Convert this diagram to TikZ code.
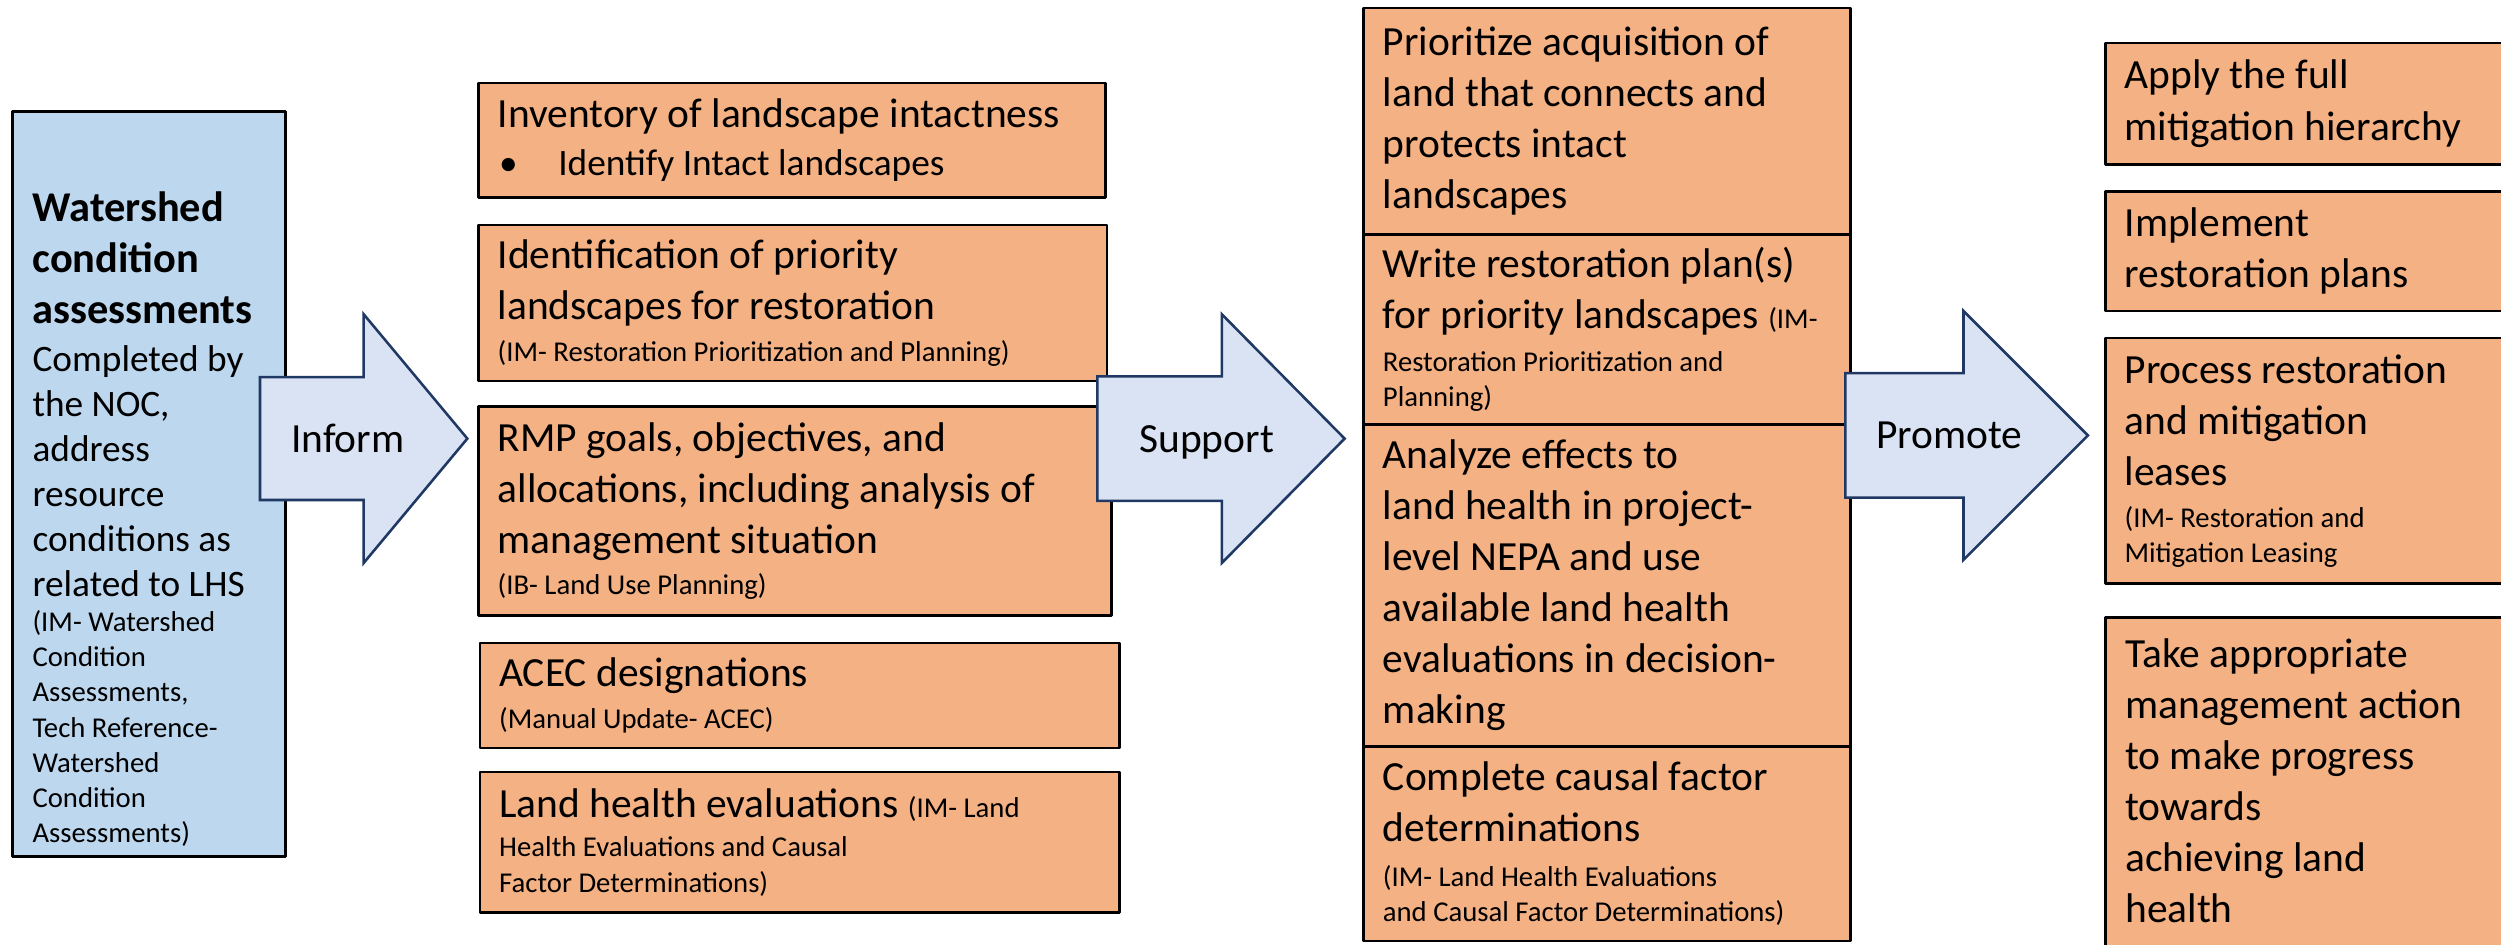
\documentclass[tikz,border=0pt]{standalone}
\usepackage{fontspec}
\setmainfont{Carlito}
\usepackage{tikz}
\usetikzlibrary{positioning}
\usepackage{xcolor}
\newcommand{\mainsize}{\fontsize{13pt}{16pt}\selectfont}
\newcommand{\notesize}{\fontsize{9pt}{11pt}\selectfont}
\definecolor{actionorange}{RGB}{244,177,131}
\tikzset{actionbox/.style={rectangle, draw=black, fill=actionorange, line width=0.8pt, anchor=north west, inner xsep=6pt, inner ysep=0pt, outer sep=0pt, align=flush left, font=\mainsize}}
\definecolor{assessblue}{RGB}{189,215,238}
\tikzset{assessbox/.style={rectangle, draw=black, fill=assessblue, line width=0.8pt, anchor=north west, inner sep=0pt, outer sep=0pt}}
\definecolor{arrowfill}{RGB}{218,227,243}
\definecolor{arrowline}{RGB}{32,56,100}
\tikzset{blockarrow/.style={draw=arrowline, fill=arrowfill, line width=0.8pt, line join=miter},
arrowlabel/.style={anchor=base, inner sep=0pt, font=\mainsize}}

\begin{document}
\begin{tikzpicture}[
        line join=bevel,
        boxtext/.style={anchor=north west, inner sep=0pt, align=flush left}
    ]
        \useasboundingbox (0pt, 0pt) rectangle (784pt, 296pt);
        % Assessments
        \node[assessbox, minimum width=85.5pt, minimum height=233.5pt] (wsca) at (4pt, 261pt) {};
        \node[boxtext, anchor=south west, text width=76pt] (wstext) at ([xshift=6pt, yshift=3pt]wsca.south west) {%
            {\fontsize{13.3pt}{16pt}\selectfont\bfseries Watershed\\condition\\assessments\par}\vspace{1pt}
            {\fontsize{11.7pt}{14.1pt}\selectfont Completed by\\the NOC,\\address\\resource\\conditions as\\related to LHS\par}
            {\notesize (IM- Watershed\\Condition\\Assessments,\\Tech Reference-\\Watershed\\Condition\\Assessments)\par}};
        \draw[blockarrow] (81.5pt, 139.25pt) -- (114pt, 139.25pt) -- (114pt, 119.5pt) -- (146.5pt, 158.5pt) -- (114pt, 197.5pt) -- (114pt, 177.75pt) -- (81.5pt, 177.75pt) -- cycle;
        \node[arrowlabel] (inform) at (109pt, 154.25pt) {Inform};
        % Land use planning
        \node[actionbox, minimum width=196.5pt, minimum height=36pt, text width=184.5pt] (inventory) at (150pt, 270pt) {%
            Inventory of landscape intactness\par\vspace{1pt}
            {\fontsize{11.7pt}{14pt}\selectfont\makebox[19pt][l]{\hspace{0.5pt}•}Identify Intact landscapes\par}};
        \node[actionbox, minimum width=197pt, minimum height=49pt, text width=185pt] (priority) at (150pt, 225.5pt) {%
            Identification of priority\\landscapes for restoration\par\vspace{2pt}
            {\notesize (IM- Restoration Prioritization and Planning)\par}};
        \node[actionbox, minimum width=198.5pt, minimum height=65.5pt, text width=186.5pt] (rmp) at (150pt, 168.5pt) {%
            RMP goals, objectives, and\\allocations, including analysis of\\management situation\par\vspace{2pt}
            {\notesize (IB- Land Use Planning)\par}};
        \node[actionbox, minimum width=200.5pt, minimum height=33pt, text width=188.5pt] (acec) at (150.5pt, 94.5pt) {%
            ACEC designations\par\vspace{2pt}
            {\notesize (Manual Update- ACEC)\par}};
        \node[actionbox, minimum width=200.5pt, minimum height=44pt, text width=188.5pt] (lhe) at (150.5pt, 54pt) {%
            Land health evaluations {\notesize (IM- Land}\par\vspace{1.5pt}
            {\notesize Health Evaluations and Causal\\Factor Determinations)\par}};
        \draw[blockarrow] (344pt, 139pt) -- (383pt, 139pt) -- (383pt, 119.5pt) -- (421.5pt, 158.5pt) -- (383pt, 197.5pt) -- (383pt, 178pt) -- (344pt, 178pt) -- cycle;
        \node[arrowlabel] (support) at (378.25pt, 154.25pt) {Support};
        % Project actions
        \node[actionbox, minimum width=152.5pt, minimum height=71pt, text width=140.5pt] (acquire) at (427.5pt, 293.5pt) {%
            Prioritize acquisition of\\land that connects and\\protects intact\\landscapes\par};
        \node[actionbox, minimum width=152.5pt, minimum height=59.5pt, text width=140.5pt, below=0pt of acquire.south west, anchor=north west] (plans) {%
            Write restoration plan(s)\\for priority landscapes {\notesize (IM-}\par\vspace{2.5pt}
            {\notesize Restoration Prioritization and\\Planning)\par}};
        \node[actionbox, minimum width=152.5pt, minimum height=101pt, text width=140.5pt, below=0pt of plans.south west, anchor=north west] (nepa) {%
            Analyze effects to\\land health in project-\\level NEPA and use\\available land health\\evaluations in decision-\\making\par};
        \node[actionbox, minimum width=152.5pt, minimum height=61pt, text width=140.5pt, below=0pt of nepa.south west, anchor=north west] (causal) {%
            Complete causal factor\\determinations\par\vspace{3pt}
            {\notesize (IM- Land Health Evaluations\\and Causal Factor Determinations)\par}};
        \draw[blockarrow] (578.5pt, 140pt) -- (615.5pt, 140pt) -- (615.5pt, 120.5pt) -- (654.5pt, 159.5pt) -- (615.5pt, 198.5pt) -- (615.5pt, 179pt) -- (578.5pt, 179pt) -- cycle;
        \node[arrowlabel] (promote) at (611pt, 155.25pt) {Promote};
        % Outcomes
        \node[actionbox, minimum width=140pt, minimum height=38pt, text width=128pt] (hierarchy) at (660pt, 282.5pt) {%
            Apply the full\\mitigation hierarchy\par};
        \node[actionbox, minimum width=140pt, minimum height=37.5pt, text width=128pt] (implement) at (660pt, 236pt) {%
            Implement\\restoration plans\par};
        \node[actionbox, minimum width=140pt, minimum height=77pt, text width=128pt] (leases) at (660pt, 190pt) {%
            Process restoration\\and mitigation\\leases\par\vspace{2pt}
            {\notesize (IM- Restoration and\\Mitigation Leasing\par}};
        \node[actionbox, minimum width=140pt, minimum height=110pt] (health) at (660pt, 102.5pt) {};
        \node[boxtext, text width=128pt, font=\mainsize] (healthtext) at ([xshift=6pt, yshift=-6.5pt]health.north west) {%
            Take appropriate\\management action\\to make progress\\towards\\achieving land\\health\par};
    \end{tikzpicture}
\end{document}
